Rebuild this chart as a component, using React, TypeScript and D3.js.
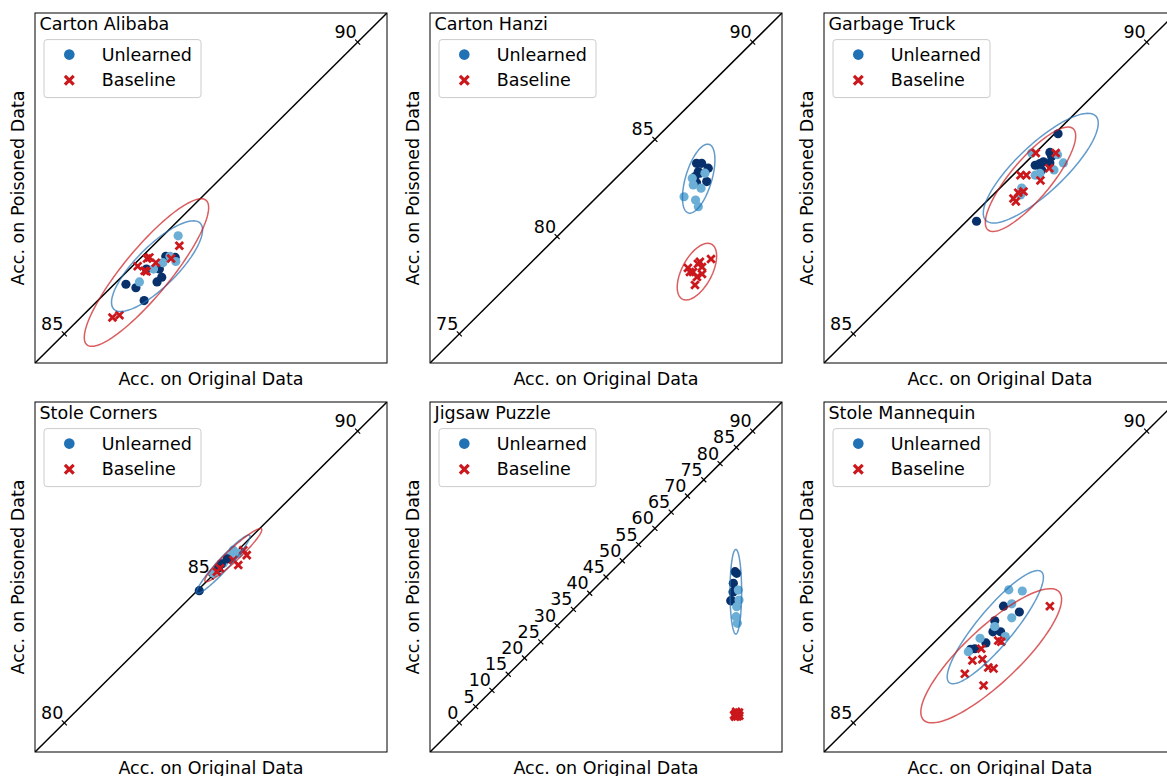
import React from 'react';
import * as d3 from 'd3';

// panel titles and the ticks drawn along the diagonal
const titles = ['Carton Alibaba', 'Carton Hanzi', 'Garbage Truck', 'Stole Corners', 'Jigsaw Puzzle', 'Stole Mannequin'];
const diagTicks = [
  [85, 90],
  [75, 80, 85, 90],
  [85, 90],
  [80, 85, 90],
  [0, 5, 10, 15, 20, 25, 30, 35, 40, 45, 50, 55, 60, 65, 70, 75, 80, 85, 90],
  [85, 90],
];

// points: [acc original, acc poisoned, shade (0 dark, 1 light)]
const alibabaUnlearned = [
  [86.05, 85.85, 0], [86.22, 85.79, 0], [86.36, 85.57, 0], [86.58, 85.89, 0], [86.66, 85.97, 0],
  [86.62, 86.11, 0], [86.73, 86.33, 0], [86.89, 86.31, 0], [86.40, 86.11, 0],
  [86.94, 86.68, 1], [86.28, 85.89, 1], [86.52, 86.11, 1], [86.68, 86.22, 1], [86.80, 86.33, 1], [86.90, 86.24, 1],
];
const alibabaBaseline = [
  [85.82, 85.28], [85.94, 85.32], [86.25, 86.16], [86.41, 86.29], [86.45, 86.31],
  [86.56, 86.22], [86.37, 86.08], [86.40, 86.07], [86.82, 86.29], [86.96, 86.51],
];
const hanziUnlearned = [
  [87.13, 83.77, 0], [87.39, 83.77, 0], [87.73, 83.52, 0], [87.22, 83.34, 0], [87.05, 83.08, 0],
  [87.65, 82.83, 0], [87.13, 82.77, 0], [87.30, 83.26, 0],
  [86.49, 82.05, 1], [87.08, 81.88, 1], [87.22, 81.54, 1], [87.36, 82.49, 1], [86.91, 83.0, 1], [86.96, 82.66, 1], [87.56, 83.26, 1],
];
const hanziBaseline = [
  [86.69, 78.39], [86.95, 78.18], [87.15, 77.92], [87.30, 78.70], [87.41, 78.44],
  [87.87, 78.85], [87.41, 78.08], [87.05, 77.51], [86.79, 78.18], [87.20, 78.60],
];
const truckUnlearned = [
  [87.10, 86.93, 0], [88.49, 88.43, 0], [88.35, 88.11, 0], [88.38, 88.04, 0], [88.10, 87.89, 0],
  [88.18, 87.92, 0], [88.24, 87.95, 0], [88.35, 87.93, 0], [88.21, 87.81, 0],
  [88.04, 88.10, 1], [88.58, 87.93, 1], [88.48, 88.07, 1], [88.42, 87.81, 1], [88.10, 87.72, 1],
  [88.18, 87.75, 1], [87.87, 87.50, 1], [87.85, 87.38, 1],
];
const truckBaseline = [
  [88.11, 88.10], [88.45, 88.10], [88.34, 87.84], [88.19, 87.63], [87.85, 87.72],
  [87.95, 87.72], [87.90, 87.44], [87.81, 87.42], [87.73, 87.32], [87.77, 87.27],
];
const cornersUnlearned = [
  [84.60, 84.53, 0], [85.08, 85.13, 1], [85.42, 85.47, 1], [85.65, 85.70, 1], [85.76, 85.92, 1],
  [85.25, 85.30, 0], [85.93, 85.81, 1], [85.35, 85.45, 0], [85.55, 85.62, 0],
];
const cornersBaseline = [
  [86.22, 85.75], [86.10, 85.92], [85.93, 85.41], [85.31, 85.30], [85.20, 85.18], [85.76, 85.58],
];
const jigsawUnlearned = [
  [84.59, 46.63, 0], [85.10, 46.14, 0], [84.07, 43.05, 0], [83.58, 37.64, 0], [84.59, 40.98, 0],
  [83.97, 40.36, 0], [83.27, 37.68, 0],
  [85.10, 35.83, 1], [85.60, 40.98, 1], [84.90, 32.75, 1], [85.29, 30.71, 1], [85.81, 37.90, 1],
];
const jigsawBaseline = [
  [84.3, 2.4], [84.9, 3.4], [85.5, 2.8], [84.6, 1.9], [85.3, 2.0], [85.8, 3.2], [84.8, 2.9], [85.9, 2.2],
];
const mannequinUnlearned = [
  [87.56, 87.00, 0], [87.83, 86.90, 0], [87.41, 86.75, 0], [87.38, 86.56, 0], [87.51, 86.56, 0],
  [87.26, 86.37, 0], [87.07, 86.27, 0], [87.00, 86.26, 0],
  [87.65, 87.28, 1], [87.88, 87.26, 1], [87.70, 87.04, 1], [87.70, 86.80, 1], [87.16, 86.45, 1],
  [86.96, 86.22, 1], [87.59, 86.48, 1], [87.41, 86.65, 1],
];
const mannequinBaseline = [
  [88.35, 87.00], [87.47, 86.41], [87.52, 86.39], [87.18, 86.27], [87.03, 86.07],
  [87.20, 86.09], [87.30, 85.95], [87.39, 85.93], [86.90, 85.84], [87.22, 85.64],
];

// confidence ellipses: [mean x, mean y, half width x, half height y, correlation] (unlearned, baseline)
const alibabaEllipses = [[86.58, 86.16, 0.776, 0.777, 0.80], [86.40, 86.05, 1.06, 1.265, 0.88]];
const hanziEllipses = [[87.24, 82.98, 0.83, 1.775, 0.55], [87.15, 78.20, 1.007, 1.456, 0.55]];
const truckEllipses = [[88.195, 87.84, 0.98, 0.94, 0.82], [88.02, 87.65, 0.77, 0.895, 0.83]];
const cornersEllipses = [[85.42, 85.44, 0.91, 1.0, 0.955], [85.76, 85.75, 0.97, 0.91, 0.95]];
const jigsawEllipses = [[84.83, 40.46, 1.78, 13.05, 0.0], [84.95, 2.7, 0.9, 0.8, 0.3]];
const mannequinEllipses = [[87.42, 86.64, 0.82, 0.97, 0.88], [87.35, 86.15, 1.20, 1.15, 0.84]];

const panels = [
  { unlearned: alibabaUnlearned, baseline: alibabaBaseline, ellipses: alibabaEllipses },
  { unlearned: hanziUnlearned, baseline: hanziBaseline, ellipses: hanziEllipses },
  { unlearned: truckUnlearned, baseline: truckBaseline, ellipses: truckEllipses },
  { unlearned: cornersUnlearned, baseline: cornersBaseline, ellipses: cornersEllipses },
  { unlearned: jigsawUnlearned, baseline: jigsawBaseline, ellipses: jigsawEllipses },
  { unlearned: mannequinUnlearned, baseline: mannequinBaseline, ellipses: mannequinEllipses },
].map((p, i) => ({ ...p, title: titles[i], ticks: diagTicks[i] }));

const W = 1167, H = 776;
const colLeft = [35, 430, 824];
const rowTop = [13, 402];
const pw = 352, ph = 350;
const font = 'DejaVu Sans';
const fs = 17.5;

const shadeColor = ['#08306b', '#6baed6'];
const legendBlue = '#2171b5';
const red = '#cb181d';

function ellipsePath(e, x, y) {
  const [mx, my, hx, hy, rho] = e;
  const a = Math.sqrt(1 + rho), b = Math.sqrt(1 - rho);
  const pts = d3.range(0, 120).map(k => {
    const t = (k / 120) * 2 * Math.PI;
    const nx = (a * Math.cos(t) - b * Math.sin(t)) / Math.SQRT2;
    const ny = (a * Math.cos(t) + b * Math.sin(t)) / Math.SQRT2;
    return [x(mx + hx * nx), y(my + hy * ny)];
  });
  return d3.line().curve(d3.curveLinearClosed)(pts);
}

function Cross({ cx, cy, s = 3.8, w = 2.8 }) {
  return (
    <path
      d={`M${cx - s},${cy - s}L${cx + s},${cy + s}M${cx - s},${cy + s}L${cx + s},${cy - s}`}
      stroke={red}
      strokeWidth={w}
      fill="none"
    />
  );
}

function Panel({ p, idx }) {
  const left = colLeft[idx % 3], top = rowTop[Math.floor(idx / 3)];
  const t0 = p.ticks[0], t1 = p.ticks[p.ticks.length - 1];
  const pad = (t1 - t0) * 0.1;
  const x = d3.scaleLinear().domain([t0 - pad, t1 + pad]).range([0, pw]);
  const y = d3.scaleLinear().domain([t0 - pad, t1 + pad]).range([ph, 0]);
  const clip = `clip${idx}`;
  return (
    <g transform={`translate(${left},${top})`}>
      <defs>
        <clipPath id={clip}>
          <rect width={pw} height={ph} />
        </clipPath>
      </defs>
      <g clipPath={`url(#${clip})`}>
        <line x1={x(t0 - pad)} y1={y(t0 - pad)} x2={x(t1 + pad)} y2={y(t1 + pad)} stroke="#000" strokeWidth={1.5} />
        {p.ticks.map(t => (
          <line key={t} x1={x(t) - 2.5} y1={y(t) - 2.5} x2={x(t) + 2.5} y2={y(t) + 2.5} stroke="#000" strokeWidth={1.2} />
        ))}
        {p.unlearned.map((d, i) => (
          <circle key={i} cx={x(d[0])} cy={y(d[1])} r={4.6} fill={shadeColor[d[2]]} />
        ))}
        {p.baseline.map((d, i) => (
          <Cross key={i} cx={x(d[0])} cy={y(d[1])} />
        ))}
        <path d={ellipsePath(p.ellipses[0], x, y)} fill="none" stroke={legendBlue} strokeOpacity={0.7} strokeWidth={1.5} />
        <path d={ellipsePath(p.ellipses[1], x, y)} fill="none" stroke={red} strokeOpacity={0.7} strokeWidth={1.5} />
      </g>
      {p.ticks.map(t => (
        <text key={t} x={x(t) - 1} y={y(t) - 4} textAnchor="end" fontSize={fs} fontFamily={font}>{t}</text>
      ))}
      <rect width={pw} height={ph} fill="none" stroke="#000" strokeWidth={1} />
      <text x={4.5} y={17.3} fontSize={fs} fontFamily={font}>{p.title}</text>
      <g transform="translate(9,26.6)">
        <rect width={157} height={58} rx={3} fill="#fff" fillOpacity={0.8} stroke="#cccccc" strokeWidth={1} />
        <circle cx={25.3} cy={15} r={5.3} fill={legendBlue} />
        <Cross cx={25.3} cy={40.7} s={4.4} w={3.2} />
        <text x={57.7} y={15} dy="0.35em" fontSize={fs} fontFamily={font}>Unlearned</text>
        <text x={57.7} y={40.7} dy="0.35em" fontSize={fs} fontFamily={font}>Baseline</text>
      </g>
      <text x={pw / 2} y={ph + 21.5} textAnchor="middle" fontSize={fs} fontFamily={font}>Acc. on Original Data</text>
      <text transform={`translate(-11,${ph / 2}) rotate(-90)`} textAnchor="middle" fontSize={fs} fontFamily={font}>Acc. on Poisoned Data</text>
    </g>
  );
}

export default function App() {
  return (
    <div style={{ position: 'fixed', left: 0, top: 0 }}>
      <svg width={W} height={H} style={{ display: 'block', background: '#fff' }}>
        {panels.map((p, i) => (
          <Panel key={i} p={p} idx={i} />
        ))}
      </svg>
    </div>
  );
}
